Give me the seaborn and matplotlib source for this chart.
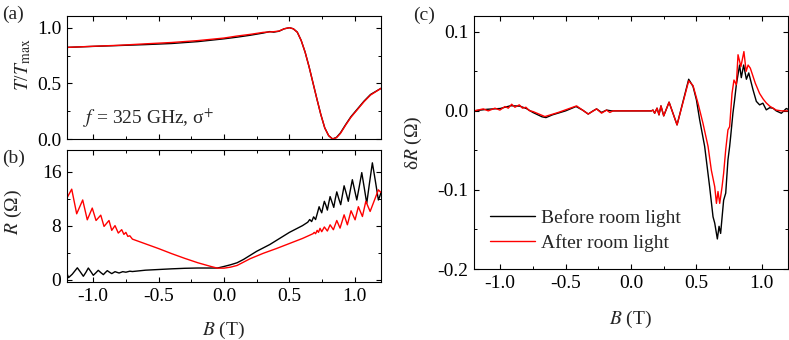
import numpy as np
import pandas as pd
import matplotlib
matplotlib.use("Agg")
import matplotlib.pyplot as plt
from matplotlib.ticker import MultipleLocator, FormatStrFormatter
import seaborn as sns

# ---------------- data ----------------
# Panel (a): normalized transmission T/Tmax vs B
a_black_B = [-1.2, -1.0, -0.8, -0.6, -0.4, -0.2, 0.0, 0.1, 0.2, 0.3, 0.35, 0.38, 0.42, 0.46,
             0.5, 0.53, 0.56, 0.59, 0.62, 0.65, 0.68, 0.71, 0.74, 0.77, 0.8, 0.83, 0.86,
             0.89, 0.93, 0.97, 1.02, 1.07, 1.12, 1.2]
a_black_T = [0.823, 0.832, 0.840, 0.848, 0.858, 0.875, 0.900, 0.915, 0.932, 0.952, 0.965, 0.960,
             0.968, 0.99, 1.0, 0.99, 0.96, 0.885, 0.78, 0.65, 0.505, 0.36, 0.22, 0.10, 0.03,
             0.0, 0.015, 0.055, 0.13, 0.20, 0.27, 0.34, 0.40, 0.455]
a_red_B = [-1.2, -1.0, -0.8, -0.6, -0.4, -0.2, 0.0, 0.1, 0.2, 0.3, 0.35, 0.38, 0.42, 0.46,
           0.5, 0.53, 0.56, 0.59, 0.62, 0.65, 0.68, 0.71, 0.74, 0.77, 0.8, 0.83, 0.86,
           0.89, 0.93, 0.97, 1.02, 1.07, 1.12, 1.2]
a_red_T = [0.823, 0.833, 0.842, 0.855, 0.867, 0.884, 0.907, 0.925, 0.940, 0.958, 0.962, 0.964,
           0.970, 0.99, 1.0, 0.99, 0.96, 0.885, 0.78, 0.65, 0.505, 0.36, 0.22, 0.10, 0.03,
           0.0, 0.012, 0.05, 0.125, 0.195, 0.265, 0.335, 0.395, 0.455]

# Panel (b): resistance R (Ohm) vs B
b_black_B = [-1.2, -1.188, -1.16, -1.121, -1.1, -1.075, -1.055, -1.037, -1.018, -0.999, -0.98,
             -0.961, -0.942, -0.922, -0.907, -0.892, -0.875, -0.858, -0.833, -0.802, -0.774,
             -0.75, -0.72, -0.7, -0.6, -0.5, -0.4, -0.3, -0.2, -0.1, -0.05, 0.0, 0.05, 0.1,
             0.15, 0.2, 0.25, 0.3, 0.35, 0.4, 0.45, 0.5, 0.55, 0.6, 0.64, 0.655, 0.67, 0.685,
             0.7, 0.713, 0.727, 0.737, 0.747, 0.757, 0.767, 0.779, 0.79, 0.8, 0.811, 0.825,
             0.839, 0.85, 0.862, 0.877, 0.892, 0.905, 0.918, 0.934, 0.95, 0.965, 0.981, 0.998,
             1.015, 1.034, 1.053, 1.072, 1.091, 1.112, 1.134, 1.157, 1.18, 1.19, 1.2]
b_black_R = [0.9, 0.3, 0.8, 1.75, 1.2, 0.5, 1.1, 1.72, 1.2, 0.64, 1.0, 1.38, 1.05, 0.74, 1.05,
             1.33, 1.1, 0.89, 1.18, 0.98, 1.18, 1.1, 1.25, 1.2, 1.4, 1.5, 1.6, 1.68, 1.72, 1.72,
             1.72, 1.95, 2.2, 2.5, 3.0, 3.6, 4.2, 4.7, 5.2, 5.8, 6.4, 7.0, 7.5, 8.0, 8.5, 8.9,
             8.6, 9.3, 8.9, 9.8, 10.8, 10.3, 9.9, 10.8, 11.6, 11.0, 10.3, 11.3, 12.3, 11.5, 10.7,
             11.9, 13.0, 12.0, 11.1, 12.5, 13.9, 12.8, 11.6, 13.2, 14.8, 13.3, 11.8, 13.8, 15.85,
             13.6, 11.3, 14.3, 17.3, 14.6, 11.8, 12.3, 12.9]
b_red_B = [-1.2, -1.164, -1.126, -1.08, -1.045, -1.007, -0.978, -0.942, -0.917, -0.879, -0.858,
           -0.833, -0.808, -0.782, -0.765, -0.75, -0.735, -0.72, -0.7, -0.6, -0.5, -0.4, -0.3,
           -0.2, -0.1, -0.05, 0.0, 0.05, 0.1, 0.2, 0.3, 0.4, 0.5, 0.6, 0.68, 0.69, 0.7, 0.712,
           0.722, 0.734, 0.747, 0.767, 0.79, 0.811, 0.836, 0.862, 0.887, 0.918, 0.943, 0.971,
           1.002, 1.027, 1.058, 1.084, 1.117, 1.18, 1.2]
b_red_R = [12.1, 13.4, 9.75, 11.8, 8.86, 10.6, 8.76, 9.55, 7.88, 8.76, 7.3, 8.0, 6.9, 7.4, 6.7,
           7.0, 6.4, 6.5, 6.0, 5.3, 4.6, 3.85, 3.15, 2.5, 1.95, 1.7, 1.7, 1.85, 2.1, 3.1, 3.9,
           4.6, 5.35, 6.1, 6.8, 7.0, 6.8, 7.3, 7.0, 7.6, 7.1, 7.8, 7.2, 8.12, 7.39, 8.76, 7.63,
           9.6, 8.12, 10.2, 8.86, 10.8, 9.35, 11.6, 10.1, 13.3, 12.9]

# Panel (c): deltaR (Ohm) vs B
c_black_B = [-1.2, -1.1, -1.0, -0.92, -0.85, -0.8, -0.75, -0.68, -0.65, -0.6, -0.5, -0.42,
             -0.37, -0.327, -0.29, -0.263, -0.225, -0.187, -0.15, 0.156, 0.168, 0.181, 0.199,
             0.214, 0.229, 0.25, 0.291, 0.352, 0.441, 0.474, 0.5, 0.525, 0.563, 0.601, 0.627,
             0.64, 0.66, 0.673, 0.685, 0.708, 0.724, 0.741, 0.754, 0.762, 0.779, 0.792, 0.805,
             0.83, 0.843, 0.861, 0.882, 0.9, 0.932, 0.958, 0.983, 1.008, 1.034, 1.06, 1.085,
             1.11, 1.149, 1.187, 1.2]
c_black_dR = [0.0, 0.002, 0.003, 0.0065, 0.006, 0.003, -0.002, -0.0075, -0.0085, -0.005, 0.0,
              0.0055, 0.001, -0.004, 0.0, 0.0025, -0.002, 0.001, 0.0, 0.0, 0.001, -0.003, 0.0034,
              -0.005, 0.0063, -0.0063, 0.011, -0.0177, 0.040, 0.031, 0.014, -0.0114, -0.045,
              -0.096, -0.134, -0.142, -0.162, -0.146, -0.155, -0.113, -0.104, -0.062, -0.045,
              -0.032, -0.003, 0.014, 0.033, 0.058, 0.042, 0.058, 0.040, 0.048, 0.027, 0.012,
              0.0076, 0.0097, 0.0013, 0.004, 0.0034, 0.0, -0.003, 0.003, 0.002]
c_red_B = [-1.2, -1.129, -1.091, -1.04, -1.002, -0.963, -0.938, -0.912, -0.887, -0.854, -0.829,
           -0.803, -0.778, -0.747, -0.658, -0.556, -0.416, -0.327, -0.263, -0.225, -0.187,
           -0.162, -0.137, 0.156, 0.168, 0.181, 0.199, 0.214, 0.229, 0.25, 0.291, 0.352, 0.441,
           0.474, 0.512, 0.55, 0.589, 0.614, 0.64, 0.653, 0.665, 0.678, 0.696, 0.708, 0.724,
           0.741, 0.754, 0.772, 0.787, 0.805, 0.818, 0.84, 0.863, 0.88, 0.895, 0.912, 0.93,
           0.95, 0.983, 1.01, 1.034, 1.06, 1.11, 1.15, 1.2]
c_red_dR = [0.0, 0.0025, 0.0, 0.0034, 0.001, 0.0055, 0.0034, 0.0084, 0.0046, 0.0076, 0.0034,
            0.0046, 0.0004, -0.001, -0.0072, -0.002, 0.0063, -0.004, 0.0025, -0.0029, 0.001,
            -0.002, 0.0, 0.0, 0.001, -0.003, 0.0034, -0.005, 0.0063, -0.0063, 0.011, -0.0177,
            0.038, 0.032, 0.0097, -0.0156, -0.045, -0.075, -0.096, -0.117, -0.102, -0.117,
            -0.096, -0.079, -0.049, -0.024, -0.02, 0.022, 0.039, 0.033, 0.071, 0.056, 0.075,
            0.05, 0.058, 0.054, 0.045, 0.035, 0.022, 0.015, 0.01, 0.006, 0.001, 0.0, 0.0]

legend_labels = ["Before room light", "After room light"]

# ---------------- style ----------------
sns.set_theme(style="ticks")
plt.rcParams.update({
    "font.family": ["Liberation Serif", "DejaVu Serif"],
    "mathtext.fontset": "stix",
    "font.size": 14,
    "axes.linewidth": 0.8,
    "xtick.direction": "in",
    "ytick.direction": "in",
    "xtick.top": True,
    "ytick.right": True,
    "xtick.major.size": 3.5,
    "ytick.major.size": 3.5,
    "xtick.minor.size": 2.0,
    "ytick.minor.size": 2.0,
    "xtick.major.width": 0.8,
    "ytick.major.width": 0.8,
    "xtick.minor.width": 0.7,
    "ytick.minor.width": 0.7,
    "xtick.major.pad": 4,
    "ytick.major.pad": 4,
    "xtick.labelsize": 14,
    "ytick.labelsize": 14,
    "axes.labelsize": 14,
    "xtick.color": "black",
    "ytick.color": "black",
    "axes.edgecolor": "black",
})

W, H = 789, 340
fig = plt.figure(figsize=(W / 100, H / 100), dpi=100)

def rect(l, t, r, b):
    return [l / W, 1 - b / H, (r - l) / W, (b - t) / H]

ax_a = fig.add_axes(rect(67, 16, 381, 139))
ax_b = fig.add_axes(rect(67, 150, 381, 282))
ax_c = fig.add_axes(rect(474, 16, 788, 269))

lw = 1.0
sns.lineplot(x=a_black_B, y=a_black_T, ax=ax_a, color="black", lw=lw, estimator=None)
sns.lineplot(x=a_red_B, y=a_red_T, ax=ax_a, color="#ff0000", lw=lw, estimator=None)
sns.lineplot(x=b_black_B, y=b_black_R, ax=ax_b, color="black", lw=lw, estimator=None)
sns.lineplot(x=b_red_B, y=b_red_R, ax=ax_b, color="#ff0000", lw=lw, estimator=None)
sns.lineplot(x=c_black_B, y=c_black_dR, ax=ax_c, color="black", lw=lw, estimator=None,
             label=legend_labels[0])
sns.lineplot(x=c_red_B, y=c_red_dR, ax=ax_c, color="#ff0000", lw=lw, estimator=None,
             label=legend_labels[1])

for ax in (ax_a, ax_b, ax_c):
    ax.set_xlim(-1.2, 1.2)
    ax.xaxis.set_major_locator(MultipleLocator(0.5))
    ax.xaxis.set_minor_locator(MultipleLocator(0.25))
    ax.xaxis.set_major_formatter(FormatStrFormatter("%.1f"))
    ax.tick_params(which="both", top=True, right=True)
    for s in ax.spines.values():
        s.set_visible(True)
        s.set_color("black")

ax_a.set_ylim(0, 1.105)
ax_a.yaxis.set_major_locator(MultipleLocator(0.5))
ax_a.yaxis.set_minor_locator(MultipleLocator(0.25))
ax_a.yaxis.set_major_formatter(FormatStrFormatter("%.1f"))
ax_a.tick_params(axis="x", labelbottom=False)
ax_a.set_xlabel("")
ax_a.set_ylabel(r"$T$/$T$$_{\rm max}$")
ax_a.yaxis.set_label_coords(-0.108, 0.6)
ax_a.text(0.051, 0.17, r"$f$ = 325 GHz, σ$^{+}$", transform=ax_a.transAxes,
          ha="left", va="center")

ax_b.set_ylim(-0.35, 19.2)
ax_b.yaxis.set_major_locator(MultipleLocator(8))
ax_b.yaxis.set_minor_locator(MultipleLocator(4))
ax_b.set_ylabel(r"$R$ (Ω)")
ax_b.yaxis.set_label_coords(-0.137, 0.53)
ax_b.set_xlabel(r"$B$ (T)")
ax_b.xaxis.set_label_coords(0.5, -0.29)

ax_c.set_ylim(-0.2, 0.12)
ax_c.yaxis.set_major_locator(MultipleLocator(0.1))
ax_c.yaxis.set_minor_locator(MultipleLocator(0.05))
ax_c.yaxis.set_major_formatter(FormatStrFormatter("%.1f"))
ax_c.set_ylabel(r"δ$R$ (Ω)")
ax_c.yaxis.set_label_coords(-0.16, 0.5)
ax_c.set_xlabel(r"$B$ (T)")
ax_c.xaxis.set_label_coords(0.5, -0.158)
ax_c.legend(loc="upper left", bbox_to_anchor=(0.051, 0.238), frameon=False,
            borderpad=0, borderaxespad=0, handlelength=2.3, handletextpad=0.3,
            labelspacing=0.37, fontsize=14)

fig.text(2 / W, 1 - 14 / H, "(a)", ha="left", va="center", fontsize=14)
fig.text(2 / W, 1 - 158 / H, "(b)", ha="left", va="center", fontsize=14)
fig.text(413 / W, 1 - 15 / H, "(c)", ha="left", va="center", fontsize=14)

fig.savefig("out.png", dpi=100)
